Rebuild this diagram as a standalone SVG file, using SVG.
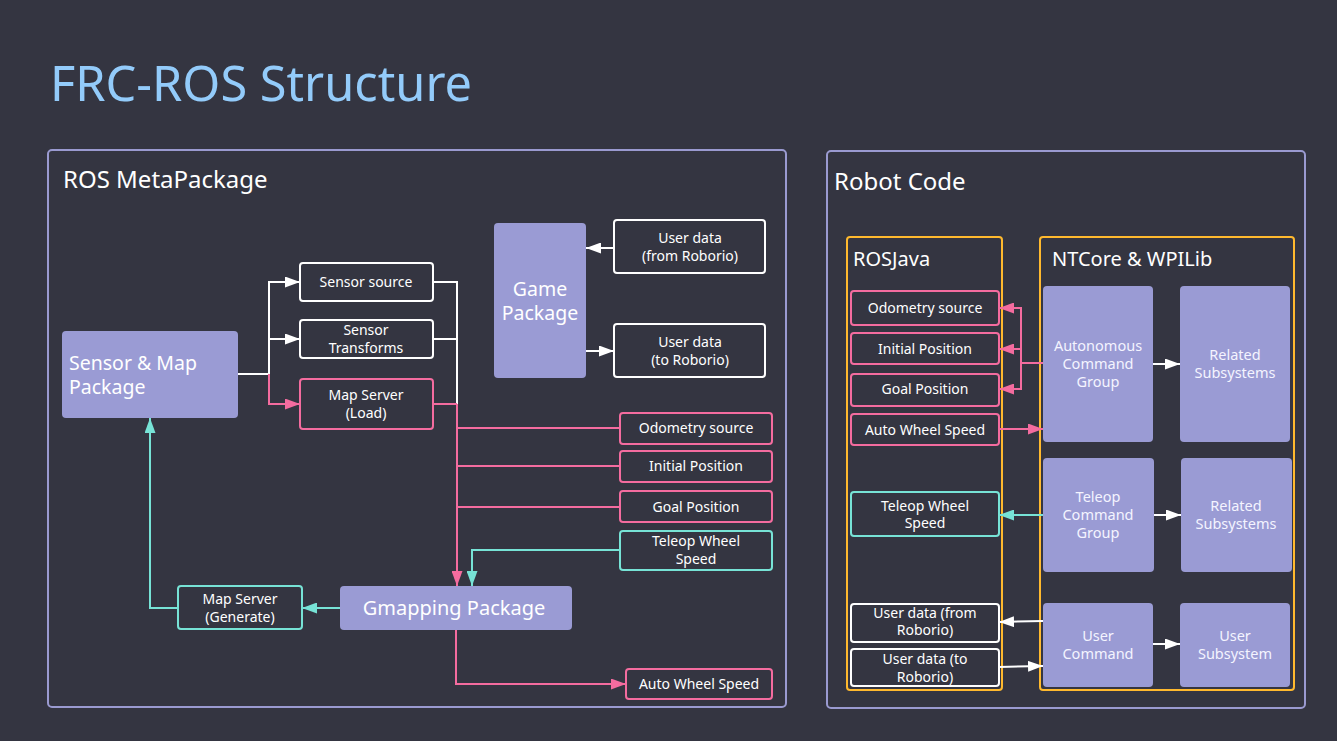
<svg xmlns="http://www.w3.org/2000/svg" width="1337" height="741" viewBox="0 0 1337 741">
<style>
text{font-family:"Noto Sans","Open Sans","DejaVu Sans",sans-serif;fill:#ffffff}
.t{font-size:14px;text-anchor:middle}
.b{font-size:14.5px;text-anchor:middle;fill:#f4f4ff}
.g{font-size:20px}
.panel{fill:none;stroke:#9a9ad0;stroke-width:2}
.grp{fill:none;stroke:#ffb92e;stroke-width:2}
.w{fill:#343541;stroke:#ffffff;stroke-width:2}
.p{fill:#343541;stroke:#f46c9f;stroke-width:2}
.c{fill:#343541;stroke:#77e3d6;stroke-width:2}
.l{fill:#9a9bd4}
.cw{fill:none;stroke:#ffffff;stroke-width:2}
.cp{fill:none;stroke:#f46c9f;stroke-width:2}
.cc{fill:none;stroke:#77e3d6;stroke-width:2}
</style>
<defs>
<marker id="aw" markerUnits="userSpaceOnUse" markerWidth="15" markerHeight="11" refX="15" refY="5.5" orient="auto"><path d="M0,0 L15,5.5 L0,11 z" fill="#ffffff"/></marker>
<marker id="ap" markerUnits="userSpaceOnUse" markerWidth="15" markerHeight="11" refX="15" refY="5.5" orient="auto"><path d="M0,0 L15,5.5 L0,11 z" fill="#f46c9f"/></marker>
<marker id="ac" markerUnits="userSpaceOnUse" markerWidth="15" markerHeight="11" refX="15" refY="5.5" orient="auto"><path d="M0,0 L15,5.5 L0,11 z" fill="#77e3d6"/></marker>
</defs>
<rect x="0" y="0" width="1337" height="741" fill="#343541"/>
<text x="50" y="101" font-size="50" textLength="422" lengthAdjust="spacingAndGlyphs" style="fill:#93cbfa">FRC-ROS Structure</text>

<g id="panel-ros">
<rect class="panel" x="48" y="150" width="738" height="557" rx="4"/>
<text x="63" y="188" font-size="24">ROS MetaPackage</text>
</g>
<g id="panel-robot">
<rect class="panel" x="827" y="151" width="478" height="557" rx="4"/>
<text x="834" y="190" font-size="24">Robot Code</text>
</g>
<g id="group-rosjava">
<rect class="grp" x="847" y="237" width="155" height="453" rx="3"/>
<text class="g" x="853" y="266">ROSJava</text>
</g>
<g id="group-ntcore">
<rect class="grp" x="1040" y="237" width="254" height="453" rx="3"/>
<text class="g" x="1052" y="266">NTCore &amp; WPILib</text>
</g>

<g id="connectors">
<path class="cw" d="M238,374 H269 V282 H300" marker-end="url(#aw)"/>
<path class="cw" d="M269,339 H300" marker-end="url(#aw)"/>
<path class="cp" d="M269,374 V404 H300" marker-end="url(#ap)"/>
<path class="cw" d="M433,282 H457 V404"/>
<path class="cw" d="M433,339 H457"/>
<path class="cp" d="M433,404 H457"/>
<path class="cp" d="M620,428 H457"/>
<path class="cp" d="M620,466 H457"/>
<path class="cp" d="M620,507 H457"/>
<path class="cp" d="M457,404 V586" marker-end="url(#ap)"/>
<path class="cc" d="M620,550 H472 V586" marker-end="url(#ac)"/>
<path class="cp" d="M456,630 V684 H626" marker-end="url(#ap)"/>
<path class="cc" d="M340,608 H302" marker-end="url(#ac)"/>
<path class="cc" d="M178,608 H150 V418" marker-end="url(#ac)"/>
<path class="cw" d="M614,248 H586" marker-end="url(#aw)"/>
<path class="cw" d="M586,351 H614" marker-end="url(#aw)"/>
<path class="cp" d="M1043,363 H1021 V308 H999" marker-end="url(#ap)"/>
<path class="cp" d="M1021,349 H999" marker-end="url(#ap)"/>
<path class="cp" d="M1021,363 V389 H999" marker-end="url(#ap)"/>
<path class="cp" d="M999,429 H1043" marker-end="url(#ap)"/>
<path class="cc" d="M1043,515 H999" marker-end="url(#ac)"/>
<path class="cw" d="M1153,364 H1180" marker-end="url(#aw)"/>
<path class="cw" d="M1154,515 H1181" marker-end="url(#aw)"/>
<path class="cw" d="M1153,644 H1180" marker-end="url(#aw)"/>
<path class="cw" d="M1043,621 L999,622" marker-end="url(#aw)"/>
<path class="cw" d="M999,667 L1043,666" marker-end="url(#aw)"/>
</g>

<g id="sensor-map-package">
<rect class="l" x="62" y="331" width="176" height="87" rx="4"/>
<text font-size="19.5"><tspan x="69" y="369.5">Sensor &amp; Map</tspan><tspan x="69" y="394">Package</tspan></text>
</g>
<g id="sensor-source">
<rect class="w" x="300" y="263" width="133" height="38" rx="3"/>
<text class="t" x="366" y="287">Sensor source</text>
</g>
<g id="sensor-transforms">
<rect class="w" x="300" y="320" width="133" height="38" rx="3"/>
<text class="t"><tspan x="366" y="335">Sensor</tspan><tspan x="366" y="353">Transforms</tspan></text>
</g>
<g id="map-server-load">
<rect class="p" x="300" y="379" width="133" height="50" rx="3"/>
<text class="t"><tspan x="366" y="400">Map Server</tspan><tspan x="366" y="418">(Load)</tspan></text>
</g>
<g id="game-package">
<rect class="l" x="494" y="223" width="92" height="155" rx="4"/>
<text font-size="19.5" text-anchor="middle"><tspan x="540" y="295.5">Game</tspan><tspan x="540" y="320">Package</tspan></text>
</g>
<g id="user-data-from">
<rect class="w" x="614" y="220" width="151" height="53" rx="3"/>
<text class="t"><tspan x="690" y="243">User data</tspan><tspan x="690" y="261">(from Roborio)</tspan></text>
</g>
<g id="user-data-to">
<rect class="w" x="614" y="324" width="151" height="53" rx="3"/>
<text class="t"><tspan x="690" y="347">User data</tspan><tspan x="690" y="365">(to Roborio)</tspan></text>
</g>
<g id="odometry-source">
<rect class="p" x="620" y="413" width="152" height="31" rx="3"/>
<text class="t" x="696" y="433">Odometry source</text>
</g>
<g id="initial-position">
<rect class="p" x="620" y="451" width="152" height="31" rx="3"/>
<text class="t" x="696" y="471">Initial Position</text>
</g>
<g id="goal-position">
<rect class="p" x="620" y="491" width="152" height="31" rx="3"/>
<text class="t" x="696" y="512">Goal Position</text>
</g>
<g id="teleop-wheel-speed">
<rect class="c" x="620" y="531" width="152" height="39" rx="3"/>
<text class="t"><tspan x="696" y="546">Teleop Wheel</tspan><tspan x="696" y="564">Speed</tspan></text>
</g>
<g id="gmapping-package">
<rect class="l" x="340" y="586" width="232" height="44" rx="4"/>
<text x="454" y="615" font-size="20" text-anchor="middle">Gmapping Package</text>
</g>
<g id="map-server-generate">
<rect class="c" x="178" y="586" width="124" height="43" rx="3"/>
<text class="t"><tspan x="240" y="604">Map Server</tspan><tspan x="240" y="622">(Generate)</tspan></text>
</g>
<g id="auto-wheel-speed">
<rect class="p" x="626" y="669" width="146" height="30" rx="3"/>
<text class="t" x="699" y="689">Auto Wheel Speed</text>
</g>

<g id="rj-odometry">
<rect class="p" x="851" y="291" width="148" height="34" rx="3"/>
<text class="t" x="925" y="313">Odometry source</text>
</g>
<g id="rj-initial">
<rect class="p" x="851" y="333" width="148" height="31" rx="3"/>
<text class="t" x="925" y="354">Initial Position</text>
</g>
<g id="rj-goal">
<rect class="p" x="851" y="374" width="148" height="32" rx="3"/>
<text class="t" x="925" y="394">Goal Position</text>
</g>
<g id="rj-auto-wheel">
<rect class="p" x="851" y="414" width="148" height="31" rx="3"/>
<text class="t" x="925" y="435">Auto Wheel Speed</text>
</g>
<g id="rj-teleop-wheel">
<rect class="c" x="851" y="492" width="148" height="44" rx="3"/>
<text class="t"><tspan x="925" y="511">Teleop Wheel</tspan><tspan x="925" y="528">Speed</tspan></text>
</g>
<g id="rj-user-from">
<rect class="w" x="851" y="604" width="148" height="38" rx="3"/>
<text class="t"><tspan x="925" y="618">User data (from</tspan><tspan x="925" y="635">Roborio)</tspan></text>
</g>
<g id="rj-user-to">
<rect class="w" x="851" y="649" width="148" height="37" rx="3"/>
<text class="t"><tspan x="925" y="664">User data (to</tspan><tspan x="925" y="682">Roborio)</tspan></text>
</g>

<g id="autonomous-command-group">
<rect class="l" x="1043" y="286" width="110" height="156" rx="4"/>
<text class="b"><tspan x="1098" y="351">Autonomous</tspan><tspan x="1098" y="369">Command</tspan><tspan x="1098" y="387">Group</tspan></text>
</g>
<g id="related-subsystems-1">
<rect class="l" x="1180" y="286" width="110" height="156" rx="4"/>
<text class="b"><tspan x="1235" y="360">Related</tspan><tspan x="1235" y="378">Subsystems</tspan></text>
</g>
<g id="teleop-command-group">
<rect class="l" x="1043" y="458" width="111" height="114" rx="4"/>
<text class="b"><tspan x="1098" y="502">Teleop</tspan><tspan x="1098" y="520">Command</tspan><tspan x="1098" y="538">Group</tspan></text>
</g>
<g id="related-subsystems-2">
<rect class="l" x="1181" y="458" width="111" height="114" rx="4"/>
<text class="b"><tspan x="1236" y="511">Related</tspan><tspan x="1236" y="529">Subsystems</tspan></text>
</g>
<g id="user-command">
<rect class="l" x="1043" y="603" width="110" height="84" rx="4"/>
<text class="b"><tspan x="1098" y="641">User</tspan><tspan x="1098" y="659">Command</tspan></text>
</g>
<g id="user-subsystem">
<rect class="l" x="1180" y="603" width="110" height="84" rx="4"/>
<text class="b"><tspan x="1235" y="641">User</tspan><tspan x="1235" y="659">Subsystem</tspan></text>
</g>
</svg>
